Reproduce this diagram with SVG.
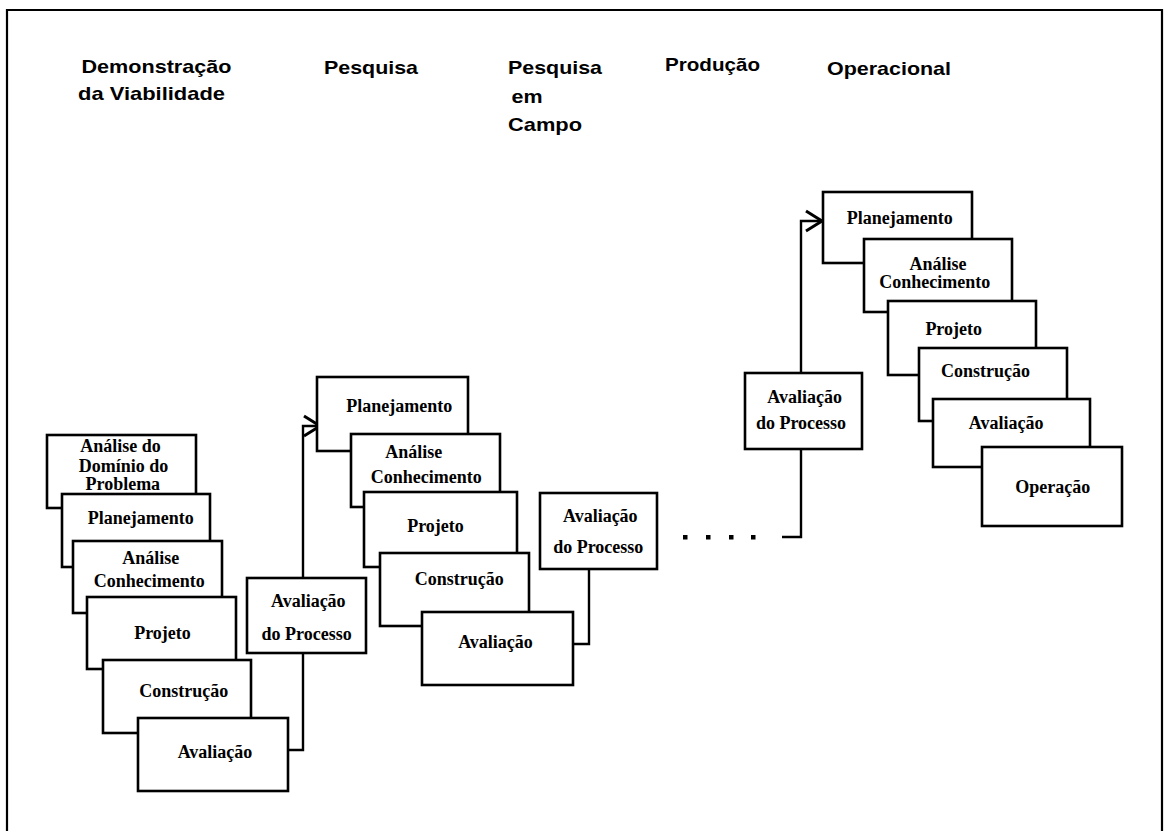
<svg xmlns="http://www.w3.org/2000/svg" width="1168" height="831" viewBox="0 0 1168 831">
  <style>
    .frame { fill: none; stroke: #000; stroke-width: 2.2; }
    .box { fill: #fff; stroke: #000; stroke-width: 2.6; }
    .wire { fill: none; stroke: #000; stroke-width: 2.4; }
    .hdr { font-family: "Liberation Sans", Arial, sans-serif; font-weight: bold; font-size: 19px; fill: #000; }
    .lbl { font-family: "Liberation Serif", "Times New Roman", serif; font-weight: bold; font-size: 18px; fill: #000; text-anchor: middle; }
  </style>
  <defs>
    <marker id="chev" viewBox="0 0 16 20" refX="16" refY="10" markerWidth="16" markerHeight="20" markerUnits="userSpaceOnUse" orient="auto" overflow="visible">
      <path d="M0,0 L16,10 L0,20" fill="none" stroke="#000" stroke-width="3"/>
    </marker>
  </defs>

  <rect width="1168" height="831" fill="#fff"/>

  <!-- page frame (open at the bottom) -->
  <path class="frame" d="M7,831 V10 H1162 V831"/>

  <!-- phase headings -->
  <g id="headings">
    <text class="hdr" x="81.5" y="73.3" textLength="150" lengthAdjust="spacingAndGlyphs">Demonstração</text>
    <text class="hdr" x="78" y="100" textLength="147" lengthAdjust="spacingAndGlyphs">da Viabilidade</text>
    <text class="hdr" x="324" y="74.3" textLength="94" lengthAdjust="spacingAndGlyphs">Pesquisa</text>
    <text class="hdr" x="508" y="74.3" textLength="94" lengthAdjust="spacingAndGlyphs">Pesquisa</text>
    <text class="hdr" x="511.5" y="103.3" textLength="31" lengthAdjust="spacingAndGlyphs">em</text>
    <text class="hdr" x="508" y="131" textLength="74" lengthAdjust="spacingAndGlyphs">Campo</text>
    <text class="hdr" x="665" y="71" textLength="95" lengthAdjust="spacingAndGlyphs">Produção</text>
    <text class="hdr" x="827" y="75" textLength="124" lengthAdjust="spacingAndGlyphs">Operacional</text>
  </g>

  <!-- connectors between the cycles -->
  <g id="connectors">
    <path class="wire" d="M288,750 H303 V426 H320" marker-end="url(#chev)"/>
    <path class="wire" d="M573,644 H589 V569"/>
    <g fill="#000">
      <rect x="683" y="535" width="4.5" height="4.5"/>
      <rect x="706" y="535" width="4.5" height="4.5"/>
      <rect x="729" y="535" width="4.5" height="4.5"/>
      <rect x="751" y="535" width="4.5" height="4.5"/>
    </g>
    <path class="wire" d="M782,537 H801 V221 H822" marker-end="url(#chev)"/>
  </g>

  <!-- cycle 1: feasibility demonstration -->
  <g id="l-dominio">
    <rect class="box" x="47" y="435" width="149" height="73"/>
    <text class="lbl" x="120.5" y="452.3">Análise do</text>
    <text class="lbl" x="123.5" y="471.5">Domínio do</text>
    <text class="lbl" x="122.8" y="490">Problema</text>
  </g>
  <g id="l-planejamento">
    <rect class="box" x="62" y="494" width="148" height="73"/>
    <text class="lbl" x="140.8" y="524.3">Planejamento</text>
  </g>
  <g id="l-analise">
    <rect class="box" x="73" y="541" width="149" height="72"/>
    <text class="lbl" x="150.8" y="564">Análise</text>
    <text class="lbl" x="149.2" y="586.7">Conhecimento</text>
  </g>
  <g id="l-projeto">
    <rect class="box" x="87" y="597" width="149" height="72"/>
    <text class="lbl" x="162.5" y="639">Projeto</text>
  </g>
  <g id="l-construcao">
    <rect class="box" x="103" y="660" width="148" height="73"/>
    <text class="lbl" x="183.8" y="696.7">Construção</text>
  </g>
  <g id="l-avaliacao">
    <rect class="box" x="138" y="718" width="150" height="73"/>
    <text class="lbl" x="215" y="757.7">Avaliação</text>
  </g>
  <g id="l-processo">
    <rect class="box" x="247" y="578" width="119" height="75"/>
    <text class="lbl" x="308.3" y="606.7">Avaliação</text>
    <text class="lbl" x="306.7" y="640">do Processo</text>
  </g>

  <!-- cycle 2: research -->
  <g id="m-planejamento">
    <rect class="box" x="317" y="377" width="151" height="74"/>
    <text class="lbl" x="399.2" y="411.7">Planejamento</text>
  </g>
  <g id="m-analise">
    <rect class="box" x="351" y="434" width="149" height="73"/>
    <text class="lbl" x="413.7" y="458.3">Análise</text>
    <text class="lbl" x="426.2" y="482.7">Conhecimento</text>
  </g>
  <g id="m-projeto">
    <rect class="box" x="364" y="492" width="153" height="75"/>
    <text class="lbl" x="435.5" y="532.3">Projeto</text>
  </g>
  <g id="m-construcao">
    <rect class="box" x="380" y="553" width="149" height="73"/>
    <text class="lbl" x="459.2" y="585">Construção</text>
  </g>
  <g id="m-avaliacao">
    <rect class="box" x="422" y="612" width="151" height="73"/>
    <text class="lbl" x="495.5" y="648.3">Avaliação</text>
  </g>
  <g id="m-processo">
    <rect class="box" x="540" y="493" width="117" height="76"/>
    <text class="lbl" x="600.3" y="521.7">Avaliação</text>
    <text class="lbl" x="598.3" y="553.3">do Processo</text>
  </g>

  <!-- cycle 5: operational -->
  <g id="r-processo">
    <rect class="box" x="745" y="373" width="117" height="76"/>
    <text class="lbl" x="804.7" y="402.7">Avaliação</text>
    <text class="lbl" x="801" y="429.3">do Processo</text>
  </g>
  <g id="r-planejamento">
    <rect class="box" x="823" y="192" width="149" height="71"/>
    <text class="lbl" x="899.7" y="224">Planejamento</text>
  </g>
  <g id="r-analise">
    <rect class="box" x="864" y="239" width="148" height="73"/>
    <text class="lbl" x="938" y="270">Análise</text>
    <text class="lbl" x="934.8" y="288.3">Conhecimento</text>
  </g>
  <g id="r-projeto">
    <rect class="box" x="888" y="301" width="148" height="74"/>
    <text class="lbl" x="953.7" y="335">Projeto</text>
  </g>
  <g id="r-construcao">
    <rect class="box" x="919" y="348" width="148" height="73"/>
    <text class="lbl" x="985.5" y="377.3">Construção</text>
  </g>
  <g id="r-avaliacao">
    <rect class="box" x="933" y="399" width="157" height="68"/>
    <text class="lbl" x="1006.2" y="429.3">Avaliação</text>
  </g>
  <g id="r-operacao">
    <rect class="box" x="982" y="447" width="140" height="79"/>
    <text class="lbl" x="1052.8" y="493.3">Operação</text>
  </g>
</svg>
